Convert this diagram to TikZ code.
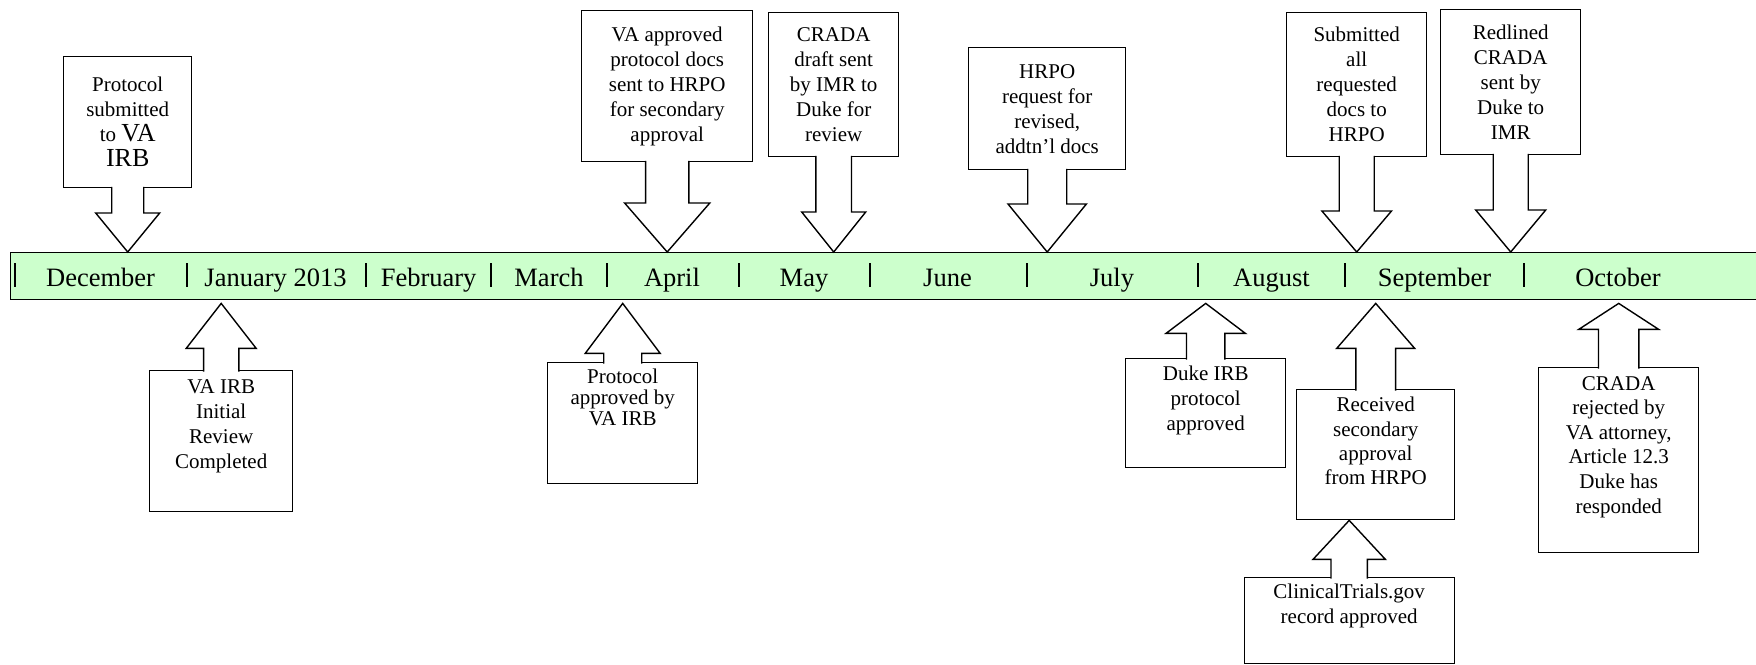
\documentclass[tikz,border=0pt]{standalone}
\usepackage{fontspec}
\setmainfont{Liberation Serif}
\usetikzlibrary{calc}

\definecolor{barfill}{HTML}{CCFFCC}
\newcommand\bigtxt{\fontsize{26}{31}\selectfont}

% arrow of a callout box: box, target, shaft half width, head half width, head length
\newcommand\calldown[5]{%
  \coordinate (#1-tip) at (#1.south |- #2);
  \draw[callout] ([shift={(-#3,-1.5)}]#1.south) -- ($(#1-tip)+(-#3,-#5)$) -- ($(#1-tip)+(-#4,-#5)$)
    -- (#1-tip) -- ($(#1-tip)+(#4,-#5)$) -- ($(#1-tip)+(#3,-#5)$) -- ([shift={(#3,-1.5)}]#1.south);}
\newcommand\callup[5]{%
  \coordinate (#1-tip) at (#1.north |- #2);
  \draw[callout] ([shift={(-#3,1.5)}]#1.north) -- ($(#1-tip)+(-#3,#5)$) -- ($(#1-tip)+(-#4,#5)$)
    -- (#1-tip) -- ($(#1-tip)+(#4,#5)$) -- ($(#1-tip)+(#3,#5)$) -- ([shift={(#3,1.5)}]#1.north);}

\tikzset{
  barbox/.style={draw, line width=1.4pt, fill=barfill, anchor=north west, inner sep=0pt},
  evbox/.style={draw, line width=1.4pt, fill=white, anchor=north west, inner sep=0pt,
    align=center, font=\fontsize{21}{25}\selectfont},
  evtext/.style={anchor=north, inner sep=0pt, align=center, font=\fontsize{21}{25}\selectfont},
  callout/.style={draw, line width=1.4pt, fill=white},
  month/.style={anchor=base, font=\fontsize{26.5}{30}\selectfont},
  tick/.style={line width=2pt},
}

\begin{document}
\begin{tikzpicture}[x=1pt, y=-1pt]
  \useasboundingbox (0,0) rectangle (1756,664);
  \clip (0,0) rectangle (1756,664);

  % timeline
  \node[barbox, minimum width=1760pt, minimum height=47pt] (bar) at (9.6,252) {};
  \coordinate (barlow) at ([yshift=-3pt]bar.south);
  \foreach \x in {15,187,366,491,607,739,870,1027,1198,1345,1524}
    \draw[tick] (\x,263) -- (\x,287);
  \node[month] (dec) at (100.6,286) {December};
  \node[month] (jan) at (275.5,286) {January 2013};
  \node[month] (feb) at (428.6,286) {February};
  \node[month] (mar) at (549,286) {March};
  \node[month] (apr) at (672,286) {April};
  \node[month] (may) at (804,286) {May};
  \node[month] (jun) at (947.5,286) {June};
  \node[month] (jul) at (1112,286) {July};
  \node[month] (aug) at (1271.5,286) {August};
  \node[month] (sep) at (1434.5,286) {September};
  \node[month] (oct) at (1618,286) {October};

  % events above the line
  \node[evbox, minimum width=128pt, minimum height=131pt] (irbsub) at (63,56)
    {Protocol\\submitted\\to {\bigtxt VA}\\{\bigtxt IRB}};
  \node[evbox, minimum width=171pt, minimum height=151pt] (hrposend) at (581,10)
    {VA approved\\protocol docs\\sent to HRPO\\for secondary\\approval};
  \node[evbox, minimum width=130pt, minimum height=144pt] (cradadraft) at (768,12)
    {CRADA\\draft sent\\by IMR to\\Duke for\\review};
  \node[evbox, minimum width=157pt, minimum height=122pt] (hrporeq) at (968,47)
    {HRPO\\request for\\revised,\\addtn’l docs};
  \node[evbox, minimum width=140pt, minimum height=144pt] (docsub) at (1286,12)
    {Submitted\\all\\requested\\docs to\\HRPO};
  \node[evbox, minimum width=140pt, minimum height=145pt] (redline) at (1440,9)
    {Redlined\\CRADA\\sent by\\Duke to\\IMR};
  \calldown{irbsub}{bar.north}{16}{32}{39}
  \calldown{hrposend}{bar.north}{21.6}{42.6}{49}
  \calldown{cradadraft}{bar.north}{17.8}{32}{40}
  \calldown{hrporeq}{bar.north}{19.5}{39.2}{48}
  \calldown{docsub}{bar.north}{17.5}{34.8}{41}
  \calldown{redline}{bar.north}{17.5}{35}{42}

  % events below the line
  \node[evbox, minimum width=143pt, minimum height=141pt] (irbrev) at (149,370) {};
  \node[evtext] (irbrev-t) at ([yshift=-9pt]irbrev.north) {VA IRB\\Initial\\Review\\Completed};
  \node[evbox, minimum width=150pt, minimum height=121pt] (irbok) at (547,362) {};
  \node[evtext, font=\fontsize{21}{21}\selectfont] (irbok-t) at ([yshift=-7pt]irbok.north)
    {Protocol\\approved by\\VA IRB};
  \node[evbox, minimum width=160pt, minimum height=109pt] (dukeirb) at (1125,358) {};
  \node[evtext] (dukeirb-t) at ([yshift=-8pt]dukeirb.north) {Duke IRB\\protocol\\approved};
  \node[evbox, minimum width=158pt, minimum height=130pt] (hrpook) at (1296,389) {};
  \node[evtext, font=\fontsize{21}{24.3}\selectfont] (hrpook-t) at ([yshift=-8pt]hrpook.north)
    {Received\\secondary\\approval\\from HRPO};
  \node[evbox, minimum width=210pt, minimum height=86pt] (ctgov) at (1243.5,577) {};
  \node[evtext] (ctgov-t) at ([yshift=-7pt]ctgov.north) {ClinicalTrials.gov\\record approved};
  \node[evbox, minimum width=160pt, minimum height=185pt] (cradarej) at (1538,367) {};
  \node[evtext, font=\fontsize{21}{24.6}\selectfont] (cradarej-t) at ([yshift=-9pt]cradarej.north)
    {CRADA\\rejected by\\VA attorney,\\Article 12.3\\Duke has\\responded};
  \callup{irbrev}{barlow}{17.6}{35}{45}
  \callup{irbok}{barlow}{19}{37.5}{50}
  \callup{dukeirb}{barlow}{19.2}{39.7}{30}
  \callup{hrpook}{barlow}{19.9}{39}{45}
  \callup{ctgov}{hrpook.south}{18.2}{36.2}{39}
  \callup{cradarej}{barlow}{20.2}{40}{26}
\end{tikzpicture}
\end{document}
